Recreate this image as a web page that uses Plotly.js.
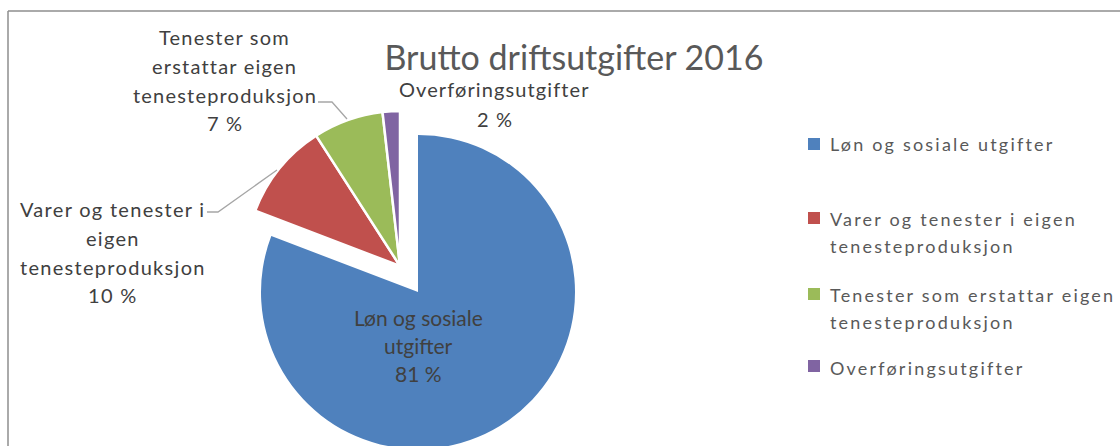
<!DOCTYPE html>
<html><head><meta charset="utf-8">
<script src="https://cdn.plot.ly/plotly-3.0.1.min.js"></script>
<style>html,body{margin:0;padding:0;overflow:hidden;background:#fff}#chart{width:1120px;height:452px}</style>
</head><body><div id="chart"></div>
<script>
const W = 1120, H = 452;
const title = "Brutto driftsutgifter 2016";
const categories = ["Løn og sosiale utgifter", "Varer og tenester i eigen tenesteproduksjon", "Tenester som erstattar eigen tenesteproduksjon", "Overføringsutgifter"];
const values = [80.8, 10.1, 7.3, 1.8];
const colors = ["#4f81bd", "#c0504d", "#9bbb59", "#8064a2"];
const sliceLabelLines = [["Løn og sosiale", "utgifter"], ["Varer og tenester i", "eigen", "tenesteproduksjon"], ["Tenester som", "erstattar eigen", "tenesteproduksjon"], ["Overføringsutgifter"]];
const legendLines = [["Løn og sosiale utgifter"], ["Varer og tenester i eigen", "tenesteproduksjon"], ["Tenester som erstattar eigen", "tenesteproduksjon"], ["Overføringsutgifter"]];

const FONT = "Lato, 'Open Sans', sans-serif";
const fx = x => x / W, fy = y => 1 - y / H;
const clear = "rgba(0,0,0,0)";
const total = values.reduce((a, b) => a + b, 0);
const pct = values.map(v => Math.round(v / total * 100) + " %");
const spaced = (t, s) => s ? '<span style="letter-spacing:' + s + 'px">' + t + '</span>' : t;

// main (blue) pie and exploded group pie
const mainDom = {cx: 418, cy: 292, r: 157};
const explDom = {cx: 400, cy: 266, r: 155};
function dom(d) { return {x: [fx(d.cx - d.r), fx(d.cx + d.r)], y: [fy(d.cy + d.r), fy(d.cy - d.r)]}; }

const traces = [
  {type: "pie", labels: categories, values: values, sort: false, direction: "clockwise", rotation: 0,
   marker: {colors: colors.map((c, i) => i === 0 ? c : clear), line: {width: 0}},
   textinfo: "none", hoverinfo: "skip", showlegend: false, domain: dom(mainDom)},
  {type: "pie", labels: categories, values: values, sort: false, direction: "clockwise", rotation: 0,
   marker: {colors: colors.map((c, i) => i === 0 ? clear : c), line: {width: values.map((v, i) => i === 0 ? 0 : 2.5), color: "#ffffff"}},
   textinfo: "none", hoverinfo: "skip", showlegend: false, domain: dom(explDom)}
];

const annotations = [];
const labelPos = [
  {x: 418, y: [317, 345, 373], size: 21, sp: 0},
  {x: 112, y: [209, 238, 267, 295], size: 20, sp: 1.3},
  {x: 224, y: [37.5, 66, 94.5, 123], size: 20, sp: 1.2},
  {x: 494, y: [89, 119], size: 20, sp: 1.1}
];
sliceLabelLines.forEach((lines, i) => {
  const P = labelPos[i];
  lines.concat([pct[i]]).forEach((t, j) => {
    annotations.push({text: spaced(t, P.sp), x: fx(P.x + P.sp / 2), y: fy(P.y[j]), xref: "paper", yref: "paper",
      xanchor: "center", yanchor: "middle", showarrow: false, font: {family: FONT, size: P.size, color: "#404040"}});
  });
});
const legY = [[144], [219, 246], [295, 322], [368]];
const swY = [144, 218, 294, 366];
const shapes = [];
legendLines.forEach((lines, i) => {
  lines.forEach((t, j) => {
    annotations.push({text: spaced(t, 2.2), x: fx(828), y: fy(legY[i][j]), xref: "paper", yref: "paper",
      xanchor: "left", yanchor: "middle", showarrow: false, font: {family: FONT, size: 18, color: "#595959"}});
  });
  shapes.push({type: "rect", xref: "paper", yref: "paper", x0: fx(808), x1: fx(820), y0: fy(swY[i] + 6), y1: fy(swY[i] - 6),
    fillcolor: colors[i], line: {width: 0}});
});
// leader lines
const leader = (pts) => ({type: "path", xref: "paper", yref: "paper",
  path: pts.map((p, k) => (k ? "L" : "M") + fx(p[0]) + "," + fy(p[1])).join(" "), line: {color: "#a6a6a6", width: 1.3}});
shapes.push(leader([[207, 212], [218, 212], [277, 170]]));
shapes.push(leader([[318, 102], [332, 102], [347, 119]]));
// chart border
shapes.push({type: "line", xref: "paper", yref: "paper", x0: fx(8), x1: fx(1125), y0: fy(11), y1: fy(11), line: {color: "#8e8e8e", width: 1.5}});
shapes.push({type: "line", xref: "paper", yref: "paper", x0: fx(8), x1: fx(8), y0: fy(11), y1: fy(460), line: {color: "#8e8e8e", width: 1.5}});

const layout = {
  width: W, height: H, margin: {l: 0, r: 0, t: 0, b: 0}, paper_bgcolor: "#fff",
  title: {text: title, x: fx(574), xanchor: "center", y: fy(58), yanchor: "middle", font: {family: FONT, size: 34, color: "#595959"}},
  showlegend: false, annotations: annotations, shapes: shapes
};
Plotly.newPlot("chart", traces, layout, {staticPlot: true});
</script></body></html>
